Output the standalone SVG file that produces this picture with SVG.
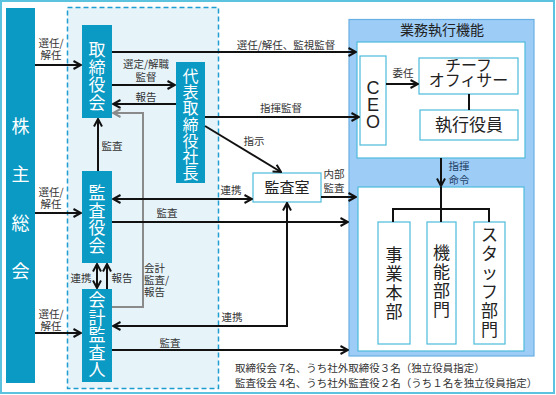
<svg xmlns="http://www.w3.org/2000/svg" width="556" height="395" viewBox="0 0 556 395">
<defs>
<style>
text{font-family:"Noto Sans CJK JP","Noto Sans",sans-serif}
.t{fill:#0A9AC4}
.w{fill:#fff;text-anchor:middle}
.lb{font-size:10.5px;fill:#333;text-anchor:middle}
.ln{stroke:#111;stroke-width:2;fill:none}
.wb{fill:#fff;stroke:#4DBBDB;stroke-width:1.2}
.k{fill:#222;text-anchor:middle}
</style>
<marker id="a" viewBox="0 0 10 10" refX="9" refY="5" markerWidth="10" markerHeight="10" markerUnits="userSpaceOnUse" orient="auto-start-reverse"><path d="M1.5,1 L9,5 L1.5,9" fill="none" stroke="#111" stroke-width="2"/></marker>
<marker id="g" viewBox="0 0 10 10" refX="9" refY="5" markerWidth="10" markerHeight="10" markerUnits="userSpaceOnUse" orient="auto-start-reverse"><path d="M1.5,1 L9,5 L1.5,9" fill="none" stroke="#8a8a8a" stroke-width="2"/></marker>
</defs>
<rect x="1" y="1" width="553" height="392" fill="#fff" stroke="#5BC3E0" stroke-width="2"/>
<rect x="67.5" y="7.5" width="151" height="381" fill="#E6F4FA" stroke="#1E9DD0" stroke-width="1.5" stroke-dasharray="5,3"/>
<g id="kabunushi">
<rect class="t" x="6" y="8" width="29" height="375"/>
<text class="w" font-size="18"><tspan x="20.5" y="133">株</tspan><tspan x="20.5" y="181">主</tspan><tspan x="20.5" y="230">総</tspan><tspan x="20.5" y="278">会</tspan></text>
</g>
<g id="torishimariyakukai">
<rect class="t" x="82" y="25" width="30" height="93"/>
<text class="w" font-size="17"><tspan x="97" y="56">取</tspan><tspan x="97" y="73.5">締</tspan><tspan x="97" y="91">役</tspan><tspan x="97" y="108.5">会</tspan></text>
</g>
<g id="daihyo">
<rect class="t" x="176" y="62" width="29" height="121"/>
<text class="w" font-size="16"><tspan x="190.5" y="82">代</tspan><tspan x="190.5" y="98.2">表</tspan><tspan x="190.5" y="114.4">取</tspan><tspan x="190.5" y="130.6">締</tspan><tspan x="190.5" y="146.8">役</tspan><tspan x="190.5" y="163">社</tspan><tspan x="190.5" y="179.2">長</tspan></text>
</g>
<g id="kansayakukai">
<rect class="t" x="82" y="171" width="30" height="92"/>
<text class="w" font-size="17"><tspan x="97" y="199">監</tspan><tspan x="97" y="216.5">査</tspan><tspan x="97" y="234">役</tspan><tspan x="97" y="251.5">会</tspan></text>
</g>
<g id="kaikei">
<rect class="t" x="82" y="289" width="30" height="93"/>
<text class="w" font-size="17"><tspan x="97" y="306">会</tspan><tspan x="97" y="323.5">計</tspan><tspan x="97" y="341">監</tspan><tspan x="97" y="358.5">査</tspan><tspan x="97" y="376">人</tspan></text>
</g>
<g id="kansashitsu">
<rect class="wb" x="253" y="173" width="68" height="29"/>
<text class="k" x="287" y="193" font-size="15">監査室</text>
</g>
<g id="gyomu">
<rect x="349" y="19.5" width="185" height="336.5" fill="#9DCCF7" stroke="#6AAFE3" stroke-width="1.2"/>
<text class="k" x="442" y="35" font-size="14">業務執行機能</text>
<rect class="wb" x="357" y="42" width="168" height="116"/>
<rect class="wb" x="358" y="187" width="166" height="164"/>
</g>
<g id="ceo">
<rect class="wb" x="360" y="56" width="26" height="89"/>
<text class="k" font-size="18" style="font-family:'Liberation Sans',sans-serif"><tspan x="373" y="94">C</tspan><tspan x="373" y="111">E</tspan><tspan x="373" y="128">O</tspan></text>
</g>
<g id="chief">
<rect class="wb" x="419" y="58" width="99" height="36"/>
<text class="k" font-size="16"><tspan x="468.5" y="71">チーフ</tspan><tspan x="468.5" y="86">オフィサー</tspan></text>
</g>
<g id="shikko">
<rect class="wb" x="420" y="110" width="98" height="30"/>
<text class="k" x="469" y="131" font-size="17">執行役員</text>
</g>
<g id="jigyo">
<rect class="wb" x="378" y="222" width="32" height="122"/>
<text class="k" font-size="17"><tspan x="394" y="261">事</tspan><tspan x="394" y="280">業</tspan><tspan x="394" y="299">本</tspan><tspan x="394" y="318">部</tspan></text>
</g>
<g id="kino">
<rect class="wb" x="427" y="222" width="29" height="122"/>
<text class="k" font-size="17"><tspan x="441.5" y="259">機</tspan><tspan x="441.5" y="278">能</tspan><tspan x="441.5" y="297">部</tspan><tspan x="441.5" y="316">門</tspan></text>
</g>
<g id="staff">
<rect class="wb" x="474" y="222" width="31" height="122"/>
<text class="k" font-size="17"><tspan x="489.5" y="241">ス</tspan><tspan x="489.5" y="260">タ</tspan><tspan x="489.5" y="279">ッ</tspan><tspan x="489.5" y="298">フ</tspan><tspan x="489.5" y="317">部</tspan><tspan x="489.5" y="336">門</tspan></text>
</g>
<g id="connectors">
<path class="ln" d="M35,65 H81" marker-end="url(#a)"/>
<path class="ln" d="M35,213 H81" marker-end="url(#a)"/>
<path class="ln" d="M35,333 H81" marker-end="url(#a)"/>
<path class="ln" d="M112,52 H356" marker-end="url(#a)"/>
<path class="ln" d="M112,85 H175" marker-end="url(#a)"/>
<path class="ln" d="M176,104 H113" marker-end="url(#a)"/>
<path class="ln" d="M205,117 H359" marker-end="url(#a)"/>
<path class="ln" d="M205,126 L281,172" marker-end="url(#a)"/>
<path class="ln" d="M98,171 V119" marker-end="url(#a)"/>
<path d="M112,307 H143 V113 H113" fill="none" stroke="#8a8a8a" stroke-width="2" marker-end="url(#g)"/>
<path class="ln" d="M113,199 H252" marker-start="url(#a)" marker-end="url(#a)"/>
<path class="ln" d="M112,222 H348" marker-end="url(#a)"/>
<path class="ln" d="M321,197 H356" marker-end="url(#a)"/>
<path class="ln" d="M97,264 V288" marker-start="url(#a)" marker-end="url(#a)"/>
<path class="ln" d="M107,289 V264" marker-end="url(#a)"/>
<path class="ln" d="M113,326 H287 V203" marker-start="url(#a)" marker-end="url(#a)"/>
<path class="ln" d="M112,350 H348" marker-end="url(#a)"/>
<path class="ln" d="M386,84 H418" marker-end="url(#a)"/>
<path class="ln" d="M469,94 V110"/>
<path class="ln" d="M441,158 V186" marker-end="url(#a)"/>
<path class="ln" d="M441,187 V209 M393,222 V209 H489 V222 M441,209 V222"/>
</g>
<g id="labels">
<text class="lb"><tspan x="51" y="47">選任/</tspan><tspan x="51" y="59">解任</tspan></text>
<text class="lb"><tspan x="51" y="196">選任/</tspan><tspan x="51" y="208">解任</tspan></text>
<text class="lb"><tspan x="51" y="318">選任/</tspan><tspan x="51" y="330">解任</tspan></text>
<text class="lb" x="286" y="49">選任/解任、監視監督</text>
<text class="lb"><tspan x="146" y="68">選定/解職</tspan><tspan x="146" y="81">監督</tspan></text>
<text class="lb" x="146" y="101">報告</text>
<text class="lb" x="281" y="112">指揮監督</text>
<text class="lb" x="254" y="145">指示</text>
<text class="lb" x="112" y="150">監査</text>
<text class="lb" x="231" y="194">連携</text>
<text class="lb" x="167" y="217">監査</text>
<text class="lb"><tspan x="334" y="178">内部</tspan><tspan x="334" y="192">監査</tspan></text>
<text class="lb" x="81" y="282">連携</text>
<text class="lb" x="122" y="282">報告</text>
<text class="lb" style="text-anchor:start"><tspan x="144" y="272">会計</tspan><tspan x="144" y="284">監査/</tspan><tspan x="144" y="296">報告</tspan></text>
<text class="lb" x="232" y="321">連携</text>
<text class="lb" x="170" y="347">監査</text>
<text class="lb" x="403" y="77">委任</text>
<text class="lb" style="fill:#1F3F66"><tspan x="459" y="170">指揮</tspan><tspan x="459" y="184">命令</tspan></text>
<text class="lb" style="text-anchor:start"><tspan x="235" y="372">取締役会 7名、うち社外取締役３名（独立役員指定）</tspan><tspan x="235" y="387">監査役会 4名、うち社外監査役２名（うち１名を独立役員指定）</tspan></text>
</g>
</svg>
